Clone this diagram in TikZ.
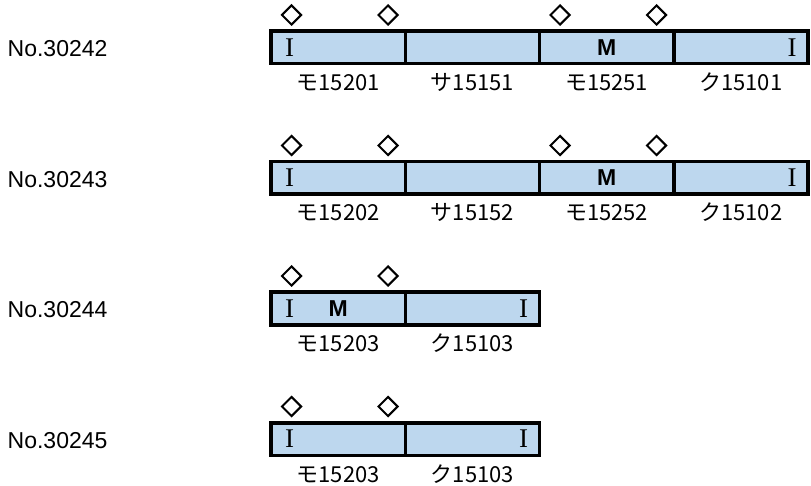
\documentclass[tikz,border=0pt]{standalone}
\usepackage{fontspec}
\setmainfont{Liberation Sans}
\newfontfamily\jpfont{Noto Sans CJK JP}
\newfontfamily\ifont{Liberation Serif}
\usetikzlibrary{shapes.geometric}
\definecolor{carfill}{HTML}{BDD7EE}
\begin{document}
\begin{tikzpicture}[x=1pt,y=-1pt,
  carbox/.style={draw=black, line width=3.5pt, fill=carfill, minimum width=134.25pt, minimum height=32.5pt, inner sep=0pt, outer sep=0pt},
  panto/.style={draw=black, line width=2pt, diamond, aspect=1, minimum width=20pt, minimum height=20pt, inner sep=0pt},
  rowlbl/.style={anchor=base west, font=\fontsize{23}{23}\selectfont, inner sep=0pt},
  carlbl/.style={anchor=base, font=\jpfont\fontsize{22}{22}\selectfont, inner sep=0pt},
  ilbl/.style={font=\ifont\fontsize{27}{27}\selectfont, inner sep=0pt},
  mlbl/.style={font=\bfseries\fontsize{23}{23}\selectfont, inner sep=0pt}]
\useasboundingbox (0,0) rectangle (811,486);

% ---------- rows 1 and 2 (four cars) ----------
\foreach \r/\y/\num/\a/\b/\c/\d in {1/47.5/30242/15201/15151/15251/15101, 2/178/30243/15202/15152/15252/15102}{
  \node[rowlbl] (n\r) at (7.5,\y+9.2) {No.\num};
  \node[carbox] (r\r c1) at (338.125,\y) {};
  \node[carbox] (r\r c2) at (472.375,\y) {};
  \node[carbox] (r\r c3) at (606.625,\y) {};
  \node[carbox] (r\r c4) at (740.875,\y) {};
  \node[ilbl] (r\r i1) at ([xshift=18.5pt]r\r c1.west) {I};
  \node[mlbl] (r\r m) at (r\r c3.center) {M};
  \node[ilbl] (r\r i4) at ([xshift=-16pt]r\r c4.east) {I};
  \node[panto] (r\r p1) at ([xshift=20.5pt,yshift=16.25pt]r\r c1.north west) {};
  \node[panto] (r\r p2) at ([xshift=117pt,yshift=16.25pt]r\r c1.north west) {};
  \node[panto] (r\r p3) at ([xshift=20.5pt,yshift=16.25pt]r\r c3.north west) {};
  \node[panto] (r\r p4) at ([xshift=117pt,yshift=16.25pt]r\r c3.north west) {};
  \node[carlbl] (r\r l1) at (338.125,\y+43) {モ\a};
  \node[carlbl] (r\r l2) at (472.375,\y+43) {サ\b};
  \node[carlbl] (r\r l3) at (606.625,\y+43) {モ\c};
  \node[carlbl] (r\r l4) at (740.875,\y+43) {ク\d};
}

% ---------- rows 3 and 4 (two cars) ----------
\foreach \r/\y/\num in {3/308.5/30244, 4/439/30245}{
  \node[rowlbl] (n\r) at (7.5,\y+9.2) {No.\num};
  \node[carbox] (r\r c1) at (338.125,\y) {};
  \node[carbox] (r\r c2) at (472.375,\y) {};
  \node[ilbl] (r\r i1) at ([xshift=18.5pt]r\r c1.west) {I};
  \node[ilbl] (r\r i2) at ([xshift=-16pt]r\r c2.east) {I};
  \node[panto] (r\r p1) at ([xshift=20.5pt,yshift=16.25pt]r\r c1.north west) {};
  \node[panto] (r\r p2) at ([xshift=117pt,yshift=16.25pt]r\r c1.north west) {};
  \node[carlbl] (r\r l1) at (338.125,\y+43) {モ15203};
  \node[carlbl] (r\r l2) at (472.375,\y+43) {ク15103};
}
\node[mlbl] (r3m) at (r3c1.center) {M};
\end{tikzpicture}
\end{document}
